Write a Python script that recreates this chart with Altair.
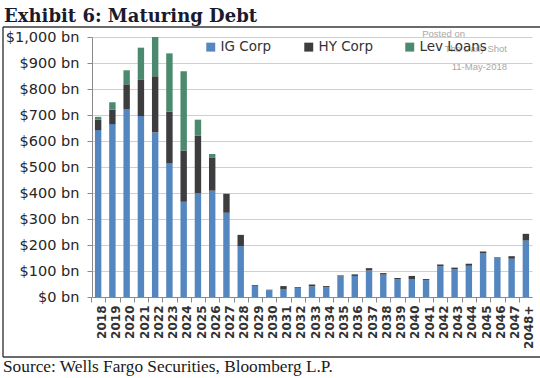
import altair as alt
import pandas as pd

years = [str(y) for y in range(2018, 2048)] + ["2048+"]
ig_corp = [642, 665, 723, 696, 633, 514, 366, 399, 409, 324, 196, 43, 26, 29, 35,
           41, 38, 79, 81, 102, 86, 69, 69, 65, 118, 107, 120, 169, 151, 147, 217]
hy_corp = [40, 56, 95, 139, 216, 199, 197, 221, 128, 73, 43, 3, 2, 13, 3,
           7, 4, 4, 6, 9, 6, 4, 12, 4, 7, 6, 8, 6, 2, 10, 26]
lev_loans = [11, 28, 54, 124, 151, 224, 305, 62, 13, 0, 0, 0, 0, 0, 0,
             0, 0, 0, 0, 0, 0, 0, 0, 0, 0, 0, 0, 0, 0, 0, 0]
series = ["IG Corp", "HY Corp", "Lev Loans"]
colors = ["#5486bf", "#3d3d40", "#4b8a6e"]
y_ticks = list(range(0, 1001, 100))

title_text = "Exhibit 6: Maturing Debt"
source_text = "Source: Wells Fargo Securities, Bloomberg L.P."
watermark = ["Posted on", "The Daily Shot", "11-May-2018"]

rows = []
for i, yr in enumerate(years):
    for k, (name, vals) in enumerate(zip(series, [ig_corp, hy_corp, lev_loans])):
        rows.append({"year": yr, "series": name, "value": vals[i], "ord": k})
df = pd.DataFrame(rows)

W, H = 440, 260

bars = alt.Chart(df).mark_bar().encode(
    x=alt.X("year:N", sort=years,
            scale=alt.Scale(paddingInner=0.55, paddingOuter=0.205),
            axis=alt.Axis(title=None, labelAngle=-90, bandPosition=0, tickOffset=-3.9,
                          labelOffset=7, tickSize=5, labelPadding=3,
                          labelFont="DejaVu Sans", labelFontSize=12, labelFontWeight="bold",
                          labelColor="#333333", domainColor="#8a8a8a", tickColor="#8a8a8a",
                          grid=False, labelOverlap=False)),
    y=alt.Y("value:Q", stack="zero",
            scale=alt.Scale(domain=[0, 1000], nice=False),
            axis=alt.Axis(title=None, values=y_ticks,
                          labelExpr="'$' + format(datum.value, ',') + ' bn'",
                          labelFont="DejaVu Sans", labelFontSize=14.5, labelColor="#262626",
                          tickSize=5, labelPadding=8, domainColor="#8a8a8a", tickColor="#8a8a8a",
                          gridColor="#cfcfcf", gridWidth=1.2)),
    color=alt.Color("series:N", scale=alt.Scale(domain=series, range=colors),
                    legend=alt.Legend(title=None, orient="none", legendX=112, legendY=3,
                                      direction="horizontal", symbolType="square",
                                      symbolSize=80, symbolStrokeWidth=0,
                                      labelFont="DejaVu Sans", labelFontSize=13.5,
                                      labelColor="#333333", columnPadding=30,
                                      labelOffset=3)),
    order=alt.Order("ord:Q"),
)

title_layer = alt.Chart(pd.DataFrame({"t": [title_text]})).mark_text(
    align="left", baseline="alphabetic", font="DejaVu Serif", fontWeight="bold",
    fontSize=18, color="#1a1a2e"
).encode(text="t:N", x=alt.value(-88), y=alt.value(-15))

source_layer = alt.Chart(pd.DataFrame({"t": [source_text]})).mark_text(
    align="left", baseline="alphabetic", font="Liberation Serif",
    fontSize=17.3, color="#1a1a1a"
).encode(text="t:N", x=alt.value(-89), y=alt.value(335))

wm_style = dict(align="right", baseline="middle", font="Liberation Sans",
                fontSize=9.5, color="#a8a8a8")
wm1 = alt.Chart(pd.DataFrame({"t": [watermark[0]]})).mark_text(**wm_style).encode(
    text="t:N", x=alt.value(373), y=alt.value(-3))
wm2 = alt.Chart(pd.DataFrame({"t": [watermark[1]]})).mark_text(**wm_style).encode(
    text="t:N", x=alt.value(415), y=alt.value(12))
wm3 = alt.Chart(pd.DataFrame({"t": [watermark[2]]})).mark_text(**wm_style).encode(
    text="t:N", x=alt.value(415), y=alt.value(30))

line_top = alt.Chart(pd.DataFrame({"a": [0]})).mark_rule(color="#3a3a3a", strokeWidth=1.6).encode(
    x=alt.value(-89), x2=alt.value(448), y=alt.value(-10))
line_left = alt.Chart(pd.DataFrame({"a": [0]})).mark_rule(color="#3a3a3a", strokeWidth=1.4).encode(
    x=alt.value(-89), y=alt.value(-10), y2=alt.value(320))
line_bottom = alt.Chart(pd.DataFrame({"a": [0]})).mark_rule(color="#3a3a3a", strokeWidth=1.6).encode(
    x=alt.value(-89), x2=alt.value(448), y=alt.value(320))

chart = alt.layer(bars, wm1, wm2, wm3, title_layer, source_layer,
                  line_top, line_left, line_bottom).properties(
    width=W, height=H,
    autosize=alt.AutoSizeParams(type="none"),
    padding={"left": 92, "top": 37, "right": 8, "bottom": 81},
    background="white",
).configure_view(stroke=None)

chart.save("out.html", embed_options={"renderer": "svg", "actions": False})
